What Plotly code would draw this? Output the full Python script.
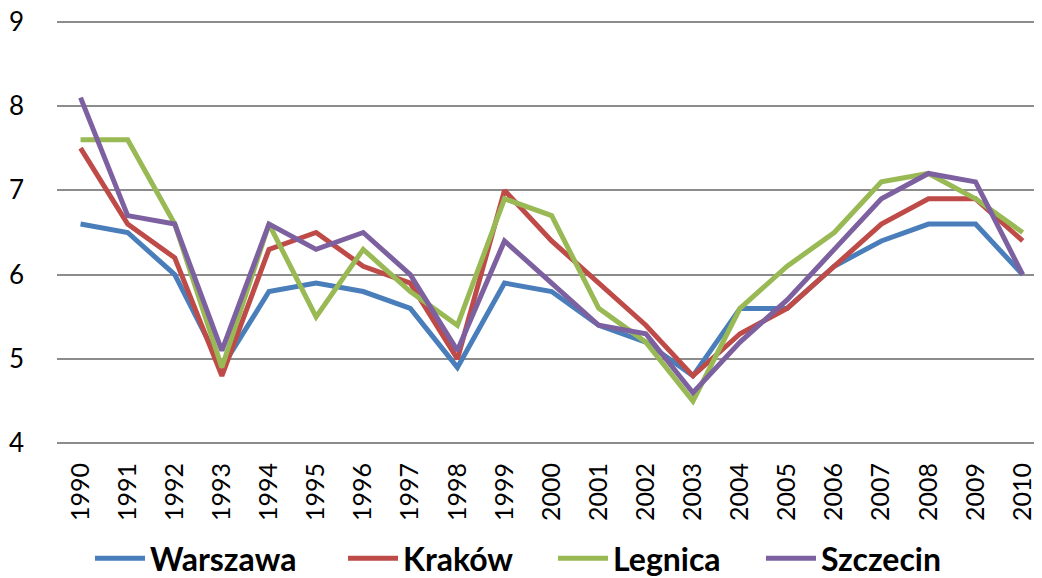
import plotly.graph_objects as go

years = list(range(1990, 2011))
year_labels = [str(y) for y in years]
warszawa = [6.6, 6.5, 6.0, 4.9, 5.8, 5.9, 5.8, 5.6, 4.9, 5.9, 5.8, 5.4, 5.2, 4.8, 5.6, 5.6, 6.1, 6.4, 6.6, 6.6, 6.0]
krakow = [7.5, 6.6, 6.2, 4.8, 6.3, 6.5, 6.1, 5.9, 5.0, 7.0, 6.4, 5.9, 5.4, 4.8, 5.3, 5.6, 6.1, 6.6, 6.9, 6.9, 6.4]
legnica = [7.6, 7.6, 6.6, 4.9, 6.6, 5.5, 6.3, 5.8, 5.4, 6.9, 6.7, 5.6, 5.2, 4.5, 5.6, 6.1, 6.5, 7.1, 7.2, 6.9, 6.5]
szczecin = [8.1, 6.7, 6.6, 5.1, 6.6, 6.3, 6.5, 6.0, 5.1, 6.4, 5.9, 5.4, 5.3, 4.6, 5.2, 5.7, 6.3, 6.9, 7.2, 7.1, 6.0]

series = [
    ("Warszawa", warszawa, "#4A7EBB", 188),
    ("Kraków", krakow, "#BE4B48", 145),
    ("Legnica", legnica, "#98B954", 143),
    ("Szczecin", szczecin, "#7D60A0", 132),
]

fig = go.Figure()
for name, vals, color, lw in series:
    fig.add_trace(go.Scatter(x=years, y=vals, name=name, mode="lines",
                             line=dict(color=color, width=5), legendwidth=lw))

font_family = "Lato, Open Sans, sans-serif"
# page body has an 8px default margin, so the figure is sized to fit the window
fig.update_layout(
    width=1034, height=570,
    margin=dict(l=49, r=0, t=12, b=133, autoexpand=False),
    paper_bgcolor="white", plot_bgcolor="white",
    font=dict(family=font_family, color="black"),
    showlegend=True,
    legend=dict(orientation="h", x=0.0335, xanchor="left", y=-0.267, yanchor="middle",
                font=dict(size=32, family=font_family, weight="bold"),
                itemwidth=50, tracegroupgap=0),
    xaxis=dict(tickmode="array", tickvals=years, ticktext=year_labels,
               range=[1989.5, 2010.41], tickangle=-90, showgrid=False,
               zeroline=False, showline=False, ticks="", automargin=False,
               tickfont=dict(size=25, family=font_family), ticklabelstandoff=12),
    yaxis=dict(range=[3.98, 9.02], tickvals=[4, 5, 6, 7, 8, 9], showgrid=True,
               gridcolor="#8C8C8C", gridwidth=1.6,
               zeroline=False, showline=False, ticks="", automargin=False,
               ticklabeloverflow="allow",
               tickfont=dict(size=26, family=font_family), ticklabelstandoff=32),
)

fig.write_html("out.html")
